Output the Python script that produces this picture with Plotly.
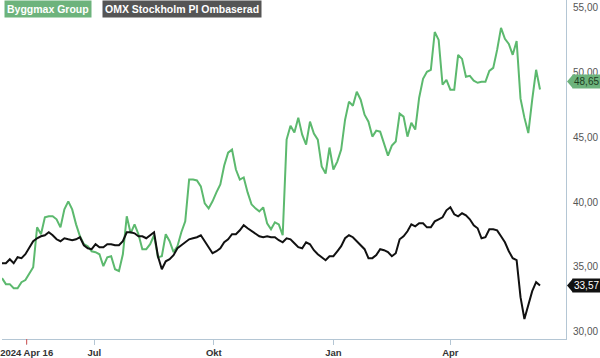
import pandas as pd
import plotly.graph_objects as go

# ---- data ----
byggmax = [34.14, 33.68, 33.68, 33.37, 33.37, 33.83, 33.99, 34.45, 34.98, 38.05,
           37.52, 38.82, 38.90, 38.90, 38.67, 38.05, 39.43, 40.05, 39.43, 38.28,
           37.36, 36.75, 36.60, 36.21, 36.14, 35.98, 35.06, 35.75, 35.83, 34.83,
           34.68, 35.98, 38.90, 37.59, 38.28, 37.52, 36.37, 36.37, 36.75, 37.44,
           35.75, 35.83, 37.52, 36.98, 36.14, 36.60, 37.67, 38.51, 41.73, 41.73,
           41.66, 41.20, 39.89, 39.51, 40.05, 40.74, 41.35, 42.81, 43.80, 44.03,
           42.50, 41.73, 41.89, 40.74, 39.82, 39.51, 39.28, 39.59, 38.36, 37.90,
           38.44, 38.28, 37.44, 44.80, 45.87, 45.34, 46.49, 45.18, 44.42, 46.18,
           45.26, 44.80, 42.73, 42.19, 44.19, 42.50, 43.11, 44.03, 46.33, 47.72,
           47.41, 48.48, 47.87, 46.72, 46.18, 45.03, 45.49, 45.41, 44.57, 43.57,
           44.34, 44.65, 46.80, 46.57, 45.03, 46.10, 45.57, 48.02, 49.48, 50.02,
           50.17, 53.08, 52.47, 49.02, 49.40, 48.64, 48.64, 51.32, 51.01, 49.63,
           49.71, 49.33, 49.17, 49.25, 49.25, 50.09, 50.32, 51.70, 53.39, 52.55,
           52.16, 51.32, 52.39, 47.95, 46.49, 45.30, 47.87, 50.17, 48.65]

omx = [35.29, 35.29, 35.60, 35.29, 35.75, 35.68, 35.98, 36.52, 36.98, 37.21,
       37.36, 37.44, 37.67, 37.44, 37.13, 36.98, 37.21, 37.13, 37.06, 37.13,
       37.29, 36.67, 36.44, 36.37, 36.75, 36.52, 36.52, 36.75, 36.75, 36.67,
       36.67, 36.98, 37.67, 37.67, 37.59, 37.36, 37.36, 37.21, 37.44, 37.67,
       35.83, 34.83, 35.44, 35.60, 35.91, 36.44, 36.67, 36.90, 37.13, 37.21,
       37.29, 37.44, 36.98, 36.44, 36.06, 36.21, 36.44, 36.90, 37.13, 37.52,
       37.52, 37.82, 38.21, 37.98, 37.75, 37.52, 37.36, 37.29, 37.36, 37.29,
       37.29, 37.06, 36.90, 37.21, 37.13, 36.83, 36.52, 36.44, 36.90, 36.75,
       36.29, 35.98, 35.75, 35.52, 35.83, 35.83, 36.21, 36.60, 37.21, 37.44,
       37.29, 36.98, 36.67, 36.37, 35.68, 35.68, 35.91, 36.37, 36.29, 36.14,
       35.83, 36.06, 37.13, 37.36, 37.75, 38.28, 38.13, 38.36, 38.36, 38.05,
       38.05, 38.51, 38.67, 38.82, 39.36, 39.59, 39.05, 38.90, 39.13, 38.97,
       38.67, 38.21, 37.98, 37.21, 37.29, 37.90, 37.90, 37.82, 37.36, 36.90,
       36.21, 35.68, 35.52, 32.68, 31.00, 32.15, 33.14, 33.83, 33.57]

dates = pd.date_range("2024-04-21", periods=len(byggmax), freq="3D")

tick_dates = ["2024-05-10", "2024-07-01", "2024-10-01", "2025-01-01", "2025-04-01"]
tick_labels = ["2024 Apr 16", "Jul", "Okt", "Jan", "Apr"]
y_ticks = [30, 35, 40, 45, 50, 55]

series_names = ["Byggmax Group", "OMX Stockholm PI Ombaserad"]
last_labels = ["48,65", "33,57"]

GREEN = "#5cb96e"
GREEN_BG = "#6db37c"
BLACK = "#111111"
AXIS = "#b4c6d4"
FONT = "Arial, Liberation Sans, sans-serif"

fig = go.Figure()
fig.add_trace(go.Scatter(x=dates, y=byggmax, mode="lines", name=series_names[0],
                         line=dict(color=GREEN, width=2), hoverinfo="skip"))
fig.add_trace(go.Scatter(x=dates, y=omx, mode="lines", name=series_names[1],
                         line=dict(color=BLACK, width=2), hoverinfo="skip"))

fig.update_layout(
    width=600, height=358,
    margin=dict(l=0, r=34, t=0, b=18),
    paper_bgcolor="white", plot_bgcolor="white",
    showlegend=False,
    separators=", ",
    font=dict(family=FONT, size=10, color="#555555"),
)
fig.update_xaxes(
    type="date",
    range=["2024-04-21", "2025-06-29"],
    tickmode="array", tickvals=tick_dates, ticktext=tick_labels,
    ticks="outside", ticklen=5, tickcolor=AXIS, tickwidth=1,
    tickfont=dict(family=FONT, size=9.5, color="#333333", weight="bold"),
    ticklabeloverflow="allow",
    showgrid=False, zeroline=False,
    showline=True, linecolor=AXIS, linewidth=1,
)
fig.update_yaxes(
    side="right",
    range=[29.46, 55.54],
    tickmode="array", tickvals=y_ticks, tickformat=".2f",
    ticks="outside", ticklen=4, tickcolor="rgba(0,0,0,0)",
    tickfont=dict(family=FONT, size=10, color="#555555"),
    ticklabeloverflow="allow",
    showgrid=False, zeroline=False,
    showline=True, linecolor=AXIS, linewidth=1,
)

# red first tick
fig.add_shape(type="line", xref="x", yref="paper",
              x0=tick_dates[0], x1=tick_dates[0], y0=0, y1=-0.016,
              line=dict(color="#d9534f", width=1))

# legend boxes
fig.add_annotation(x=0, y=1, xref="paper", yref="paper", xanchor="left", yanchor="top",
                   xshift=2, text="<b>" + series_names[0] + "</b>", showarrow=False,
                   bgcolor=GREEN_BG, borderpad=2,
                   font=dict(family=FONT, size=10.5, color="white"))
fig.add_annotation(x=0, y=1, xref="paper", yref="paper", xanchor="left", yanchor="top",
                   xshift=100, text="<b>" + series_names[1] + "</b>", showarrow=False,
                   bgcolor="#555555", borderpad=2,
                   font=dict(family=FONT, size=10.5, color="white"))

# last value tags
tags = [(byggmax[-1], last_labels[0], GREEN_BG, "#1d3d22", 8),
        (omx[-1], last_labels[1], "#111111", "white", 0)]
for val, txt, bg, fc, ys in tags:
    fig.add_annotation(x=1, y=val, xref="paper", yref="y", xanchor="left", yanchor="middle",
                       xshift=6, yshift=ys, text=txt, showarrow=False,
                       bgcolor=bg, borderpad=1,
                       font=dict(family=FONT, size=10, color=fc))
    fig.add_shape(type="path", xref="paper", yref="y",
                  xsizemode="pixel", ysizemode="pixel", xanchor=1, yanchor=val,
                  path=f"M 1,{ys} L 7,{ys + 7} L 7,{ys - 7} Z",
                  fillcolor=bg, line=dict(width=0))

fig.write_html("out.html", config={"displayModeBar": False},
               post_script="document.body.style.margin='0';document.body.style.overflow='hidden';")
